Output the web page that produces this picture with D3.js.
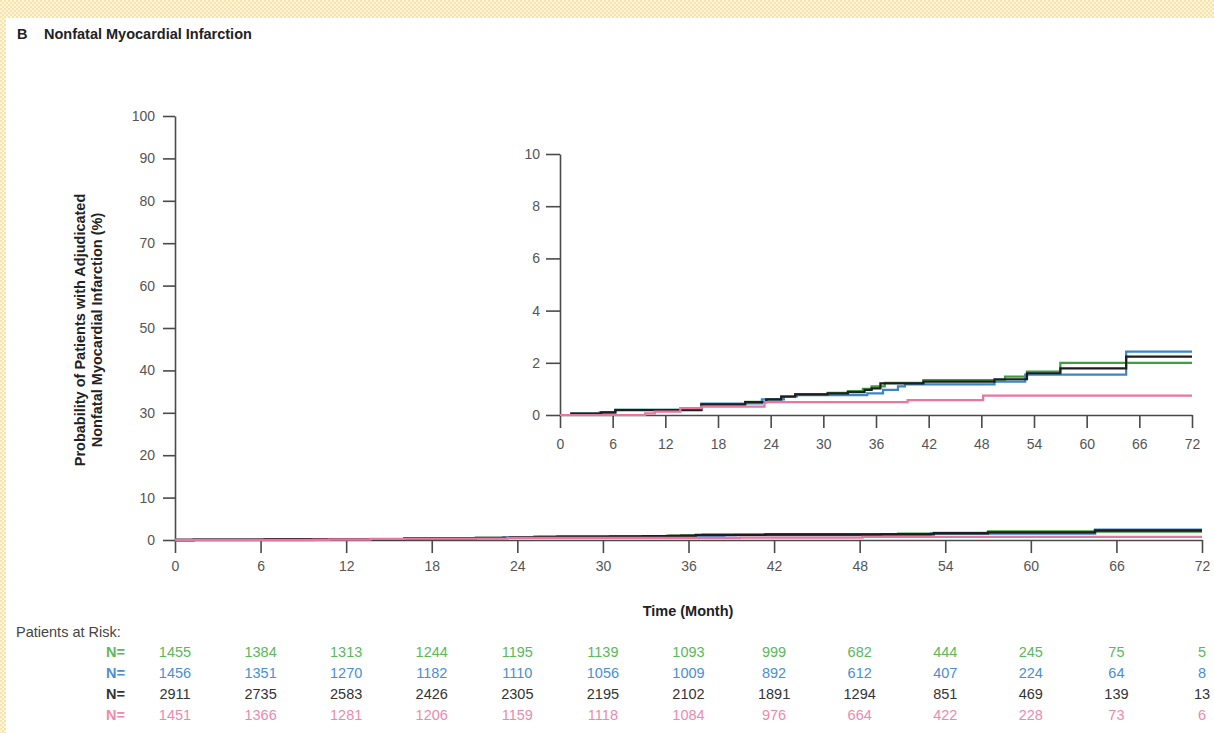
<!DOCTYPE html>
<html>
<head>
<meta charset="utf-8">
<script src="https://cdn.jsdelivr.net/npm/d3@7"></script>
<style>
  html, body { margin: 0; padding: 0; background: #fff; }
  svg { display: block; font-family: "Liberation Sans", Arial, sans-serif; }
  .axis path, .axis line { stroke: #4a4a4a; stroke-width: 1.6; }
  .axis text { fill: #555; font-size: 14px; }
</style>
</head>
<body>
<div id="chart"></div>
<script>
// time points for the at-risk table and x ticks (months)
var months = [0, 6, 12, 18, 24, 30, 36, 42, 48, 54, 60, 66, 72];
var yTicksMain = [0, 10, 20, 30, 40, 50, 60, 70, 80, 90, 100];
var yTicksInset = [0, 2, 4, 6, 8, 10];

// cumulative incidence steps [month, percent]
var greenSteps = [[0,0],[1.3,0.05],[4.7,0.1],[6.3,0.2],[16.1,0.4],[21.1,0.5],[23.5,0.6],[25.2,0.72],[26.8,0.8],[30.5,0.85],[32.8,0.92],[34.5,1.0],[35.5,1.1],[37,1.23],[41.4,1.34],[50.7,1.47],[53.2,1.66],[57,2.0],[72,2.0]];
var blueSteps = [[0,0],[1.3,0.05],[4.5,0.1],[6.3,0.2],[16.1,0.44],[23,0.6],[25.5,0.72],[27,0.76],[35,0.83],[36.8,0.96],[38.5,1.1],[39.3,1.17],[49.5,1.28],[53,1.55],[64.5,2.43],[72,2.43]];
var blackSteps = [[0,0],[1.3,0.05],[4.7,0.1],[6.3,0.19],[16.1,0.41],[21.1,0.49],[23.5,0.6],[25.2,0.7],[26.8,0.79],[30.5,0.83],[32.8,0.88],[34.7,0.96],[35.5,1.02],[36.5,1.21],[41.4,1.28],[49.5,1.37],[53.2,1.6],[57,1.79],[64.5,2.24],[72,2.24]];
var pinkSteps = [[0,0],[9.7,0.06],[10.8,0.13],[13.7,0.26],[16.1,0.32],[23.3,0.49],[39.6,0.57],[48.2,0.74],[72,0.74]];

// patients at risk
var greenRisk = [1455, 1384, 1313, 1244, 1195, 1139, 1093, 999, 682, 444, 245, 75, 5];
var blueRisk = [1456, 1351, 1270, 1182, 1110, 1056, 1009, 892, 612, 407, 224, 64, 8];
var blackRisk = [2911, 2735, 2583, 2426, 2305, 2195, 2102, 1891, 1294, 851, 469, 139, 13];
var pinkRisk = [1451, 1366, 1281, 1206, 1159, 1118, 1084, 976, 664, 422, 228, 73, 6];

var series = [
  {steps: greenSteps, risk: greenRisk, line: "#3f9e3f", text: "#5bb85b"},
  {steps: blueSteps, risk: blueRisk, line: "#3a86c8", text: "#4a8fcf"},
  {steps: blackSteps, risk: blackRisk, line: "#1e1e1e", text: "#333"},
  {steps: pinkSteps, risk: pinkRisk, line: "#e8769e", text: "#ec8aae"}
];

var width = 1214, height = 733;
var svg = d3.select("#chart").append("svg")
  .attr("width", width).attr("height", height);

// dotted yellow frame seen on the top and left edges
var pat = svg.append("defs").append("pattern")
  .attr("id", "dots").attr("width", 4).attr("height", 4)
  .attr("patternUnits", "userSpaceOnUse");
pat.append("rect").attr("width", 4).attr("height", 4).attr("fill", "#fff6df");
pat.append("rect").attr("width", 2).attr("height", 2).attr("fill", "#fbe2a6");
pat.append("rect").attr("x", 2).attr("y", 2).attr("width", 2).attr("height", 2).attr("fill", "#fbe2a6");
svg.append("rect").attr("width", width).attr("height", 18).attr("fill", "url(#dots)");
svg.append("rect").attr("y", 18).attr("width", 6).attr("height", height - 18).attr("fill", "url(#dots)");

// title
var title = svg.append("text").attr("x", 17).attr("y", 39)
  .style("font-size", "14.5px").style("font-weight", "bold").attr("fill", "#222");
title.append("tspan").text("B");
title.append("tspan").attr("x", 44).text("Nonfatal Myocardial Infarction");

// main scales
var x = d3.scaleLinear().domain([0, 72]).range([175, 1202]);
var y = d3.scaleLinear().domain([0, 100]).range([540, 116]);

svg.append("g").attr("class", "axis").attr("transform", "translate(0,540)")
  .call(d3.axisBottom(x).tickValues(months).tickSize(13).tickPadding(8).tickSizeOuter(0));
svg.append("g").attr("class", "axis").attr("transform", "translate(175,0)")
  .call(d3.axisLeft(y).tickValues(yTicksMain).tickSize(12).tickPadding(8).tickSizeOuter(0));

var stepLine = function(xs, ys) {
  return d3.line().x(function(d) { return xs(d[0]); }).y(function(d) { return ys(d[1]); })
    .curve(d3.curveStepAfter);
};

var mainLine = stepLine(x, y);
series.forEach(function(s) {
  svg.append("path").datum(s.steps).attr("d", mainLine)
    .attr("fill", "none").attr("stroke", s.line).attr("stroke-width", 2.4);
});

// y axis title
var yt = svg.append("text").attr("transform", "translate(85,330) rotate(-90)")
  .attr("text-anchor", "middle").style("font-size", "14.5px").style("font-weight", "bold").attr("fill", "#222");
yt.append("tspan").attr("x", 0).attr("y", 0).text("Probability of Patients with Adjudicated");
yt.append("tspan").attr("x", 0).attr("y", 17).text("Nonfatal Myocardial Infarction (%)");

svg.append("text").attr("x", 688).attr("y", 616).attr("text-anchor", "middle")
  .style("font-size", "14.5px").style("font-weight", "bold").attr("fill", "#222")
  .text("Time (Month)");

// inset
var xi = d3.scaleLinear().domain([0, 72]).range([560, 1192]);
var yi = d3.scaleLinear().domain([0, 10]).range([415, 154]);

svg.append("g").attr("class", "axis").attr("transform", "translate(0,415)")
  .call(d3.axisBottom(xi).tickValues(months).tickSize(13).tickPadding(11).tickSizeOuter(0));
svg.append("g").attr("class", "axis").attr("transform", "translate(560,0)")
  .call(d3.axisLeft(yi).tickValues(yTicksInset).tickSize(14).tickPadding(6).tickSizeOuter(0));

var insetLine = stepLine(xi, yi);
series.forEach(function(s) {
  svg.append("path").datum(s.steps).attr("d", insetLine)
    .attr("fill", "none").attr("stroke", s.line).attr("stroke-width", 2.2);
});

// patients at risk table
svg.append("text").attr("x", 16).attr("y", 637).style("font-size", "14.5px").attr("fill", "#444")
  .text("Patients at Risk:");

series.forEach(function(s, i) {
  var rowY = 657 + i * 21;
  svg.append("text").attr("x", 125).attr("y", rowY).attr("text-anchor", "end")
    .style("font-size", "14.5px").style("font-weight", "bold").attr("fill", s.text).text("N=");
  svg.selectAll(null).data(s.risk).enter().append("text")
    .attr("x", function(d, j) { return x(months[j]); })
    .attr("y", rowY).attr("text-anchor", "middle")
    .style("font-size", "14.5px").attr("fill", s.text)
    .text(function(d) { return d; });
});
</script>
</body>
</html>
